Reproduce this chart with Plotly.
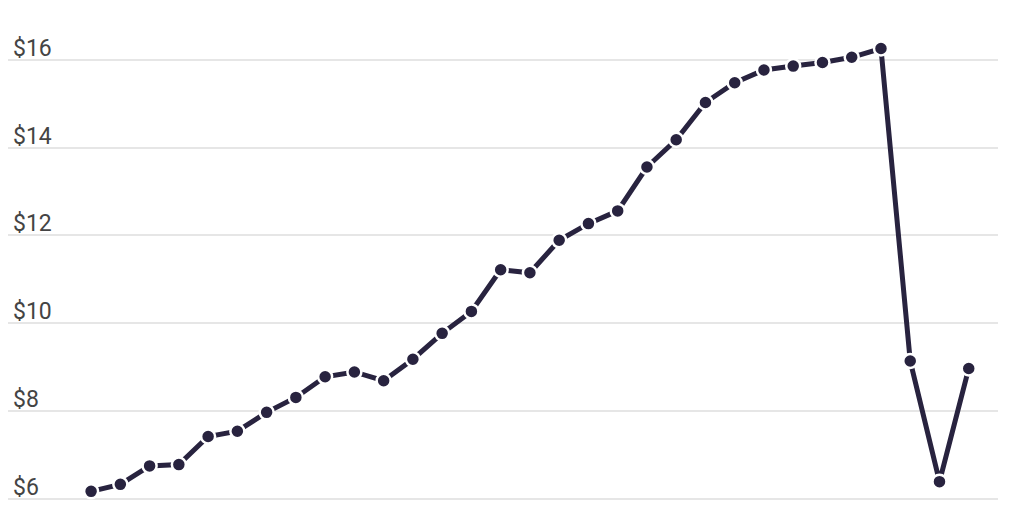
import plotly.graph_objects as go

years = [1990, 1991, 1992, 1993, 1994, 1995, 1996, 1997, 1998, 1999,
         2000, 2001, 2002, 2003, 2004, 2005, 2006, 2007, 2008, 2009,
         2010, 2011, 2012, 2013, 2014, 2015, 2016, 2017, 2018, 2019, 2020]
values = [6.17, 6.33, 6.75, 6.78, 7.42, 7.54, 7.97, 8.31, 8.78, 8.89,
          8.69, 9.18, 9.77, 10.27, 11.22, 11.15, 11.89, 12.27, 12.56, 13.56,
          14.18, 15.03, 15.48, 15.77, 15.86, 15.94, 16.06, 16.26, 9.14, 6.39, 8.97]
tick_vals = [6, 8, 10, 12, 14, 16]
tick_text = ["$6", "$8", "$10", "$12", "$14", "$16"]

line_color = "#28233f"

fig = go.Figure()
fig.add_trace(go.Scatter(
    x=years, y=values, mode="lines+markers",
    line=dict(color=line_color, width=5),
    marker=dict(size=14, color=line_color, line=dict(color="white", width=2.5)),
    cliponaxis=False, hoverinfo="skip", showlegend=False,
))

fig.update_layout(
    width=1024, height=512,
    margin=dict(l=0, r=34, t=19, b=19),
    paper_bgcolor="white", plot_bgcolor="white",
    font=dict(family="Roboto, sans-serif", size=23, color="#333333"),
    xaxis=dict(range=[years[0] - 2.84, years[0] + 31.0], showgrid=False,
               showticklabels=False, zeroline=False, showline=False, ticks="",
               automargin=False),
    yaxis=dict(range=[5.95, 16.75], tickvals=tick_vals, ticktext=tick_text,
               showgrid=True, gridcolor="#e6e6e6", gridwidth=2, zeroline=False,
               showline=False, ticks="", ticklabelposition="inside top",
               ticklabelstandoff=2, ticklabelshift=4, automargin=False),
)

fig.write_html("out.html")
